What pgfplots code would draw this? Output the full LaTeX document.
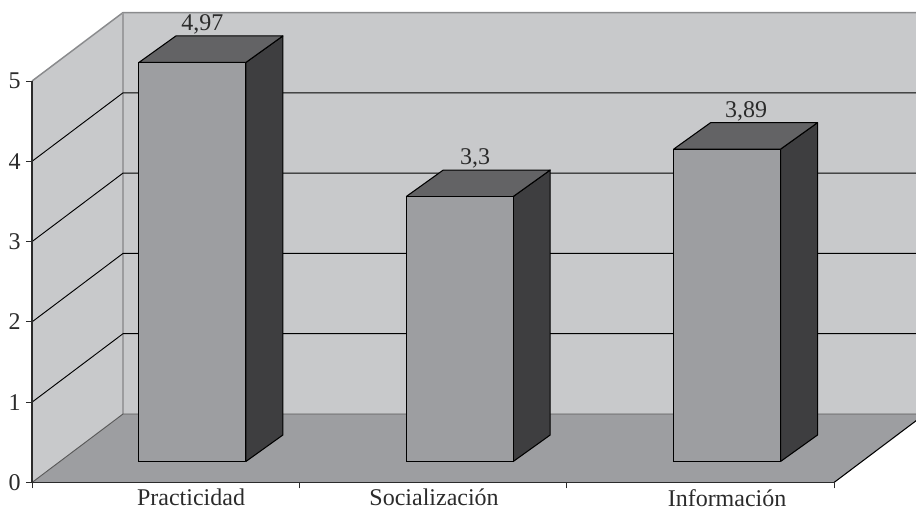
\documentclass[border=0pt]{standalone}
\usepackage{pgfplots}
\usepackage{fontspec}
\setmainfont{Liberation Serif}
\pgfplotsset{compat=1.18}
\definecolor{wall}{HTML}{C8C9CB}
\definecolor{floorc}{HTML}{9D9EA1}
\definecolor{barfront}{HTML}{9D9EA1}
\definecolor{bartop}{HTML}{636365}
\definecolor{barside}{HTML}{3E3E40}
\definecolor{edge}{HTML}{8A8B8D}
\definecolor{ink}{HTML}{2B2B2B}
% Perspective offsets of the chart box, in axis units
\newcommand{\depthx}{0.3404}
\newcommand{\depthy}{0.853}
% Bar base height on the floor and bar depth, in axis units
\newcommand{\basey}{0.2615}
\newcommand{\bardx}{0.1384}
\newcommand{\bardy}{0.33}
% #1 category index, #2 value
\newcommand{\threedbar}[2]{%
  \pgfmathsetmacro{\xa}{#1+0.4}%
  \pgfmathsetmacro{\xb}{#1+0.8}%
  \pgfmathsetmacro{\xc}{\xa+\bardx}%
  \pgfmathsetmacro{\xd}{\xb+\bardx}%
  \pgfmathsetmacro{\yt}{#2+\basey}%
  \pgfmathsetmacro{\ytb}{\yt+\bardy}%
  \pgfmathsetmacro{\ybb}{\basey+\bardy}%
  \edef\drawbar{%
    \noexpand\addplot[fill=barside,draw=black,line width=0.8pt,line join=round] coordinates {(\xb,\basey)(\xd,\ybb)(\xd,\ytb)(\xb,\yt)(\xb,\basey)};
    \noexpand\addplot[fill=bartop,draw=black,line width=0.8pt,line join=round] coordinates {(\xa,\yt)(\xb,\yt)(\xd,\ytb)(\xc,\ytb)(\xa,\yt)};
    \noexpand\addplot[fill=barfront,draw=black,line width=0.8pt,line join=round] coordinates {(\xa,\basey)(\xb,\basey)(\xb,\yt)(\xa,\yt)(\xa,\basey)};
  }\drawbar
}
% #1 x position of the label, #2 value, #3 text
\newcommand{\barlabel}[3]{%
  \pgfmathsetmacro{\yl}{#2+\basey+\bardy+0.07}%
  \edef\drawlabel{\noexpand\node[anchor=base,inner sep=0pt,text=ink] at (axis cs:#1,\yl) {#3};}\drawlabel
}
% #1 grid level
\newcommand{\gridlevel}[1]{%
  \pgfmathsetmacro{\yg}{#1+\depthy}%
  \edef\drawgrid{\noexpand\addplot[draw=black,line width=0.7pt] coordinates {(0,#1)(\depthx,\yg)(3.3404,\yg)};}\drawgrid
}
\begin{document}
\begin{tikzpicture}[font=\fontsize{18}{20}\selectfont]
\useasboundingbox (0,0) rectangle (687pt,381.75pt);
\clip (0,0) rectangle (687pt,381.75pt);
\begin{axis}[
  at={(24pt,19.875pt)}, anchor=south west,
  scale only axis, width=601.5pt, height=301.1pt,
  xmin=0, xmax=3, ymin=0, ymax=5,
  clip=false, axis on top,
  axis x line*=bottom, axis y line*=left,
  axis line style={-,draw=ink},
  x axis line style={line width=1.2pt},
  y axis line style={line width=0.9pt},
  xtick={0,1,2,3},
  xticklabels={},
  extra x ticks={0.595,1.504,2.6},
  extra x tick labels={Practicidad,Socialización,Información},
  extra x tick style={major tick length=0pt,
    tick label style={text=ink,yshift=-1.5pt}},
  ytick={0,1,2,3,4,5},
  tick align=outside, major tick length=4.5pt,
  tick style={draw=ink,line width=0.7pt},
  /pgf/number format/assume math mode=true,
  y tick label style={text=ink,xshift=-0.5pt},
]
% Walls and floor of the chart box
\addplot[fill=wall,draw=none] coordinates {(0.3404,0.853)(3.3404,0.853)(3.3404,5.853)(0.3404,5.853)(0.3404,0.853)};
\addplot[fill=wall,draw=none] coordinates {(0,0)(0.3404,0.853)(0.3404,5.853)(0,5)(0,0)};
\addplot[fill=floorc,draw=none] coordinates {(0,0)(3,0)(3.3404,0.853)(0.3404,0.853)(0,0)};
% Edges of the box
\addplot[draw=edge,line width=1.1pt] coordinates {(0,5)(0.3404,5.853)(3.3404,5.853)};
\addplot[draw=edge!85!white,line width=1pt] coordinates {(0.3404,5.853)(0.3404,0.853)};
\addplot[draw=black!65,line width=0.7pt] coordinates {(0,0)(0.3404,0.853)(3.3404,0.853)};
\addplot[draw=black,line width=0.8pt] coordinates {(3,0)(3.3404,0.853)};
% Grid lines on the side and back walls
\gridlevel{1}
\gridlevel{2}
\gridlevel{3}
\gridlevel{4}
% Bars
\threedbar{0}{4.97}
\threedbar{1}{3.3}
\threedbar{2}{3.89}
% Value labels
\barlabel{0.6377}{4.97}{4,97}
\barlabel{1.6575}{3.3}{3,3}
\barlabel{2.6708}{3.89}{3,89}
\end{axis}
\end{tikzpicture}
\end{document}
